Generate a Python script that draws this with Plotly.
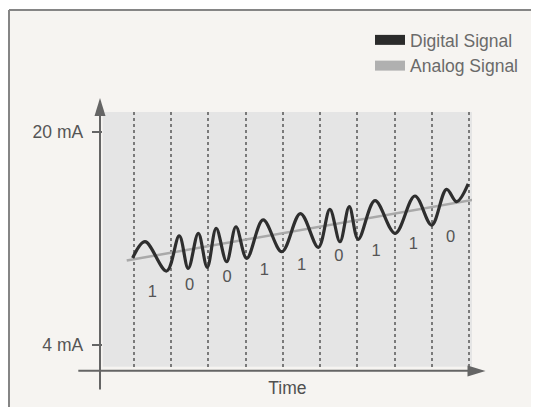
import plotly.graph_objects as go

# The page adds an 8px body margin, so the figure is drawn 8px smaller and
# every reference pixel position is shifted by that offset.
W, H = 539, 407
OFF = 8
FW, FH = W - OFF, H - OFF

# ---------------- data ----------------
# time axis in bit periods, current axis in mA
bit_boundaries = [0, 1, 2, 3, 4, 5, 6, 7, 8, 9]
bits = ["1", "0", "0", "1", "1", "0", "1", "1", "0"]
bit_centers = [0.5, 1.5, 2.5, 3.5, 4.5, 5.5, 6.5, 7.5, 8.5]
bit_label_ma = [7.92, 8.43, 9.00, 9.57, 9.93, 10.62, 11.00, 11.50, 12.00]

# digital (FSK) signal: start, successive peaks / troughs, end
digital_t = [-0.03, 0.30, 0.88, 1.22, 1.46, 1.73, 1.97, 2.21, 2.49, 2.74, 3.03,
             3.47, 3.97, 4.47, 4.95, 5.26, 5.53, 5.78, 6.02, 6.47, 7.01,
             7.54, 7.99, 8.39, 8.66, 8.97]
digital_ma = [10.53, 11.75, 9.55, 12.18, 9.75, 12.38, 9.83, 12.75, 10.25, 12.87, 10.50,
              13.38, 11.00, 13.86, 11.33, 14.18, 11.75, 14.38, 11.93, 14.83, 12.38,
              15.18, 13.00, 15.68, 14.75, 16.08]

# analog 4-20 mA signal (straight line)
analog_t = [-0.19, 9.15]
analog_ma = [10.34, 14.92]

y_tick_vals = [4, 20]
y_tick_text = ["4 mA", "20 mA"]

# ---------------- styling / layout ----------------
FONT = "Liberation Sans, Arial, Helvetica, sans-serif"
AXIS_COL = "#656565"


def px(x):
    return (x - OFF) / FW


def py(y):
    return 1 - (y - OFF) / FH


fig = go.Figure()

fig.add_trace(go.Scatter(
    x=analog_t, y=analog_ma, mode="lines",
    line=dict(color="#a9a9a9", width=2.5),
    showlegend=False, hoverinfo="skip"))

fig.add_trace(go.Scatter(
    x=digital_t, y=digital_ma, mode="lines",
    line=dict(color="#2e2e2e", width=3.2, shape="spline", smoothing=1.0),
    showlegend=False, hoverinfo="skip"))

fig.add_trace(go.Scatter(
    x=bit_centers, y=bit_label_ma, mode="text", text=bits,
    textfont=dict(family=FONT, size=16.5, color="#555555"),
    showlegend=False, hoverinfo="skip", cliponaxis=False))

# legend entries
fig.add_trace(go.Scatter(
    x=[None], y=[None], mode="lines", name="Digital Signal",
    line=dict(color="#2b2b2b", width=10), legendgroup="d"))
fig.add_trace(go.Scatter(
    x=[None], y=[None], mode="lines", name="Analog Signal",
    line=dict(color="#b0b0b0", width=10), legendgroup="a"))

shapes = [
    # white strip above the framed card
    dict(type="rect", xref="paper", yref="paper", x0=-0.02, x1=1.02, y0=py(10), y1=1.02,
         fillcolor="white", line=dict(width=0), layer="below"),
    # frame
    dict(type="line", xref="paper", yref="paper", x0=px(9), x1=px(9), y0=-0.02, y1=py(10),
         line=dict(color="#858585", width=2)),
    dict(type="line", xref="paper", yref="paper", x0=px(9), x1=1.02, y0=py(10), y1=py(10),
         line=dict(color="#858585", width=2)),
    # y axis line + arrow
    dict(type="line", xref="paper", yref="paper", x0=px(100), x1=px(100), y0=py(389.5), y1=py(112),
         line=dict(color=AXIS_COL, width=2)),
    dict(type="path", xref="paper", yref="paper",
         path=f"M {px(100)} {py(98)} L {px(94.5)} {py(116)} L {px(105.5)} {py(116)} Z",
         fillcolor=AXIS_COL, line=dict(width=0)),
    # x axis line + arrow
    dict(type="line", xref="paper", yref="paper", x0=px(78.3), x1=px(472), y0=py(370.8), y1=py(370.8),
         line=dict(color=AXIS_COL, width=2)),
    dict(type="path", xref="paper", yref="paper",
         path=f"M {px(485.5)} {py(371)} L {px(467.5)} {py(365.5)} L {px(467.5)} {py(376.5)} Z",
         fillcolor=AXIS_COL, line=dict(width=0)),
]

fig.update_layout(
    width=FW, height=FH,
    margin=dict(l=0, r=0, t=0, b=0),
    paper_bgcolor="#f6f4f1",
    plot_bgcolor="#e5e5e5",
    font=dict(family=FONT, color="#666666"),
    shapes=shapes,
    showlegend=True,
    legend=dict(
        x=px(370), y=py(22), xanchor="left", yanchor="top",
        bgcolor="rgba(0,0,0,0)", borderwidth=0,
        font=dict(family=FONT, size=17.5, color="#6a6a6a"),
        tracegroupgap=0,
    ),
    xaxis=dict(
        domain=[px(102.7), px(472)],
        range=[-0.834, 9.072],
        tickvals=bit_boundaries,
        showticklabels=False, ticks="",
        showgrid=True, griddash="dot", gridcolor="#7a7a7a", gridwidth=1.5,
        zeroline=False, showline=False,
        title=dict(text="Time", font=dict(family=FONT, size=17.5, color="#505050"), standoff=15),
        fixedrange=True,
    ),
    yaxis=dict(
        domain=[py(366.7), py(112)],
        range=[2.372, 21.48],
        tickvals=y_tick_vals, ticktext=y_tick_text,
        ticks="outside", ticklen=10, tickwidth=2, tickcolor=AXIS_COL,
        ticklabelstandoff=5,
        tickfont=dict(family=FONT, size=17.5, color="#555555"),
        showgrid=False, zeroline=False, showline=False,
        fixedrange=True,
    ),
)

fig.write_html("out.html")
